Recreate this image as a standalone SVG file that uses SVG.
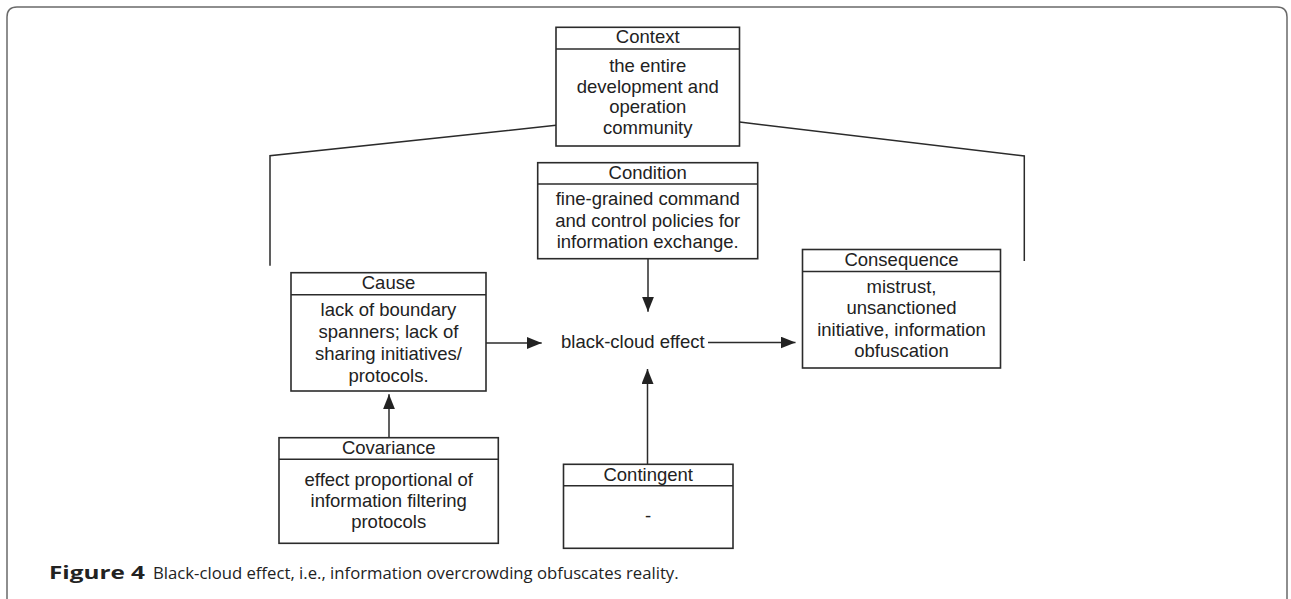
<svg xmlns="http://www.w3.org/2000/svg" width="1291" height="599" viewBox="0 0 1291 599">
<style>
.box{fill:#fff;stroke:#2b2b2b;stroke-width:1.6}
.sep{stroke:#2b2b2b;stroke-width:1.6}
.t{font-family:"Liberation Sans",Arial,sans-serif;font-size:18.5px;fill:#222;text-anchor:middle}
.ln{fill:none;stroke:#2b2b2b;stroke-width:1.5}
.cap{font-family:"Open Sans","Liberation Sans",sans-serif;font-size:17px;fill:#222}
</style>
<defs>
<marker id="ah" markerUnits="userSpaceOnUse" markerWidth="16" markerHeight="12" refX="15" refY="6" orient="auto">
<path d="M0,0 L15,6 L0,12 Z" fill="#222"/>
</marker>
</defs>
<rect width="1291" height="599" fill="#fff"/>
<path d="M7,599 V17 Q7,7 17,7 H1277 Q1287,7 1287,17 V599" fill="none" stroke="#6a6a6a" stroke-width="1.5"/>

<g id="connectors">
<polyline class="ln" points="556,125.3 270,155.7 270,265.7"/>
<polyline class="ln" points="739.5,122 1024.3,156 1024.3,261"/>
<line class="ln" x1="648" y1="258.7" x2="648" y2="311.7" marker-end="url(#ah)"/>
<line class="ln" x1="647.5" y1="464.3" x2="647.5" y2="369" marker-end="url(#ah)"/>
<line class="ln" x1="486" y1="343" x2="541.7" y2="343" marker-end="url(#ah)"/>
<line class="ln" x1="708" y1="342.5" x2="795.5" y2="342.5" marker-end="url(#ah)"/>
<line class="ln" x1="389" y1="437.7" x2="389" y2="394.3" marker-end="url(#ah)"/>
</g>

<g id="context">
<rect class="box" x="556" y="27.3" width="183.5" height="118.7"/>
<line class="sep" x1="556" y1="49" x2="739.5" y2="49"/>
<text class="t" x="647.75" y="43.3">Context</text>
<text class="t" x="647.75" y="72">the entire</text>
<text class="t" x="647.75" y="92.5">development and</text>
<text class="t" x="647.75" y="113">operation</text>
<text class="t" x="647.75" y="133.5">community</text>
</g>

<g id="condition">
<rect class="box" x="537.7" y="162.7" width="220" height="96"/>
<line class="sep" x1="537.7" y1="184" x2="757.7" y2="184"/>
<text class="t" x="647.7" y="179">Condition</text>
<text class="t" x="647.7" y="205">fine-grained command</text>
<text class="t" x="647.7" y="226.7">and control policies for</text>
<text class="t" x="647.7" y="248.3">information exchange.</text>
</g>

<g id="cause">
<rect class="box" x="291" y="272.7" width="195" height="118.3"/>
<line class="sep" x1="291" y1="294.7" x2="486" y2="294.7"/>
<text class="t" x="388.5" y="289">Cause</text>
<text class="t" x="388.5" y="315.7">lack of boundary</text>
<text class="t" x="388.5" y="337.8">spanners; lack of</text>
<text class="t" x="388.5" y="360">sharing initiatives/</text>
<text class="t" x="388.5" y="381.7">protocols.</text>
</g>

<g id="effect">
<text class="t" x="561" y="348" style="text-anchor:start">black-cloud effect</text>
</g>

<g id="consequence">
<rect class="box" x="802.5" y="249.5" width="198" height="118.5"/>
<line class="sep" x1="802.5" y1="271.5" x2="1000.5" y2="271.5"/>
<text class="t" x="901.5" y="266">Consequence</text>
<text class="t" x="901.5" y="292.7">mistrust,</text>
<text class="t" x="901.5" y="314.3">unsanctioned</text>
<text class="t" x="901.5" y="335.7">initiative, information</text>
<text class="t" x="901.5" y="357.3">obfuscation</text>
</g>

<g id="covariance">
<rect class="box" x="279" y="437.7" width="219.3" height="105.6"/>
<line class="sep" x1="279" y1="459.3" x2="498.3" y2="459.3"/>
<text class="t" x="388.7" y="454">Covariance</text>
<text class="t" x="388.7" y="485.7">effect proportional of</text>
<text class="t" x="388.7" y="506.7">information filtering</text>
<text class="t" x="388.7" y="528.3">protocols</text>
</g>

<g id="contingent">
<rect class="box" x="563.5" y="464.3" width="169.5" height="84"/>
<line class="sep" x1="563.5" y1="485.7" x2="733" y2="485.7"/>
<text class="t" x="648.2" y="480.7">Contingent</text>
<text class="t" x="648.2" y="522">-</text>
</g>

<g id="caption">
<text class="cap" x="49" y="579" font-weight="bold" textLength="96" lengthAdjust="spacingAndGlyphs">Figure 4</text>
<text class="cap" x="153" y="579" textLength="525.6" lengthAdjust="spacingAndGlyphs">Black-cloud effect, i.e., information overcrowding obfuscates reality.</text>
</g>
</svg>
